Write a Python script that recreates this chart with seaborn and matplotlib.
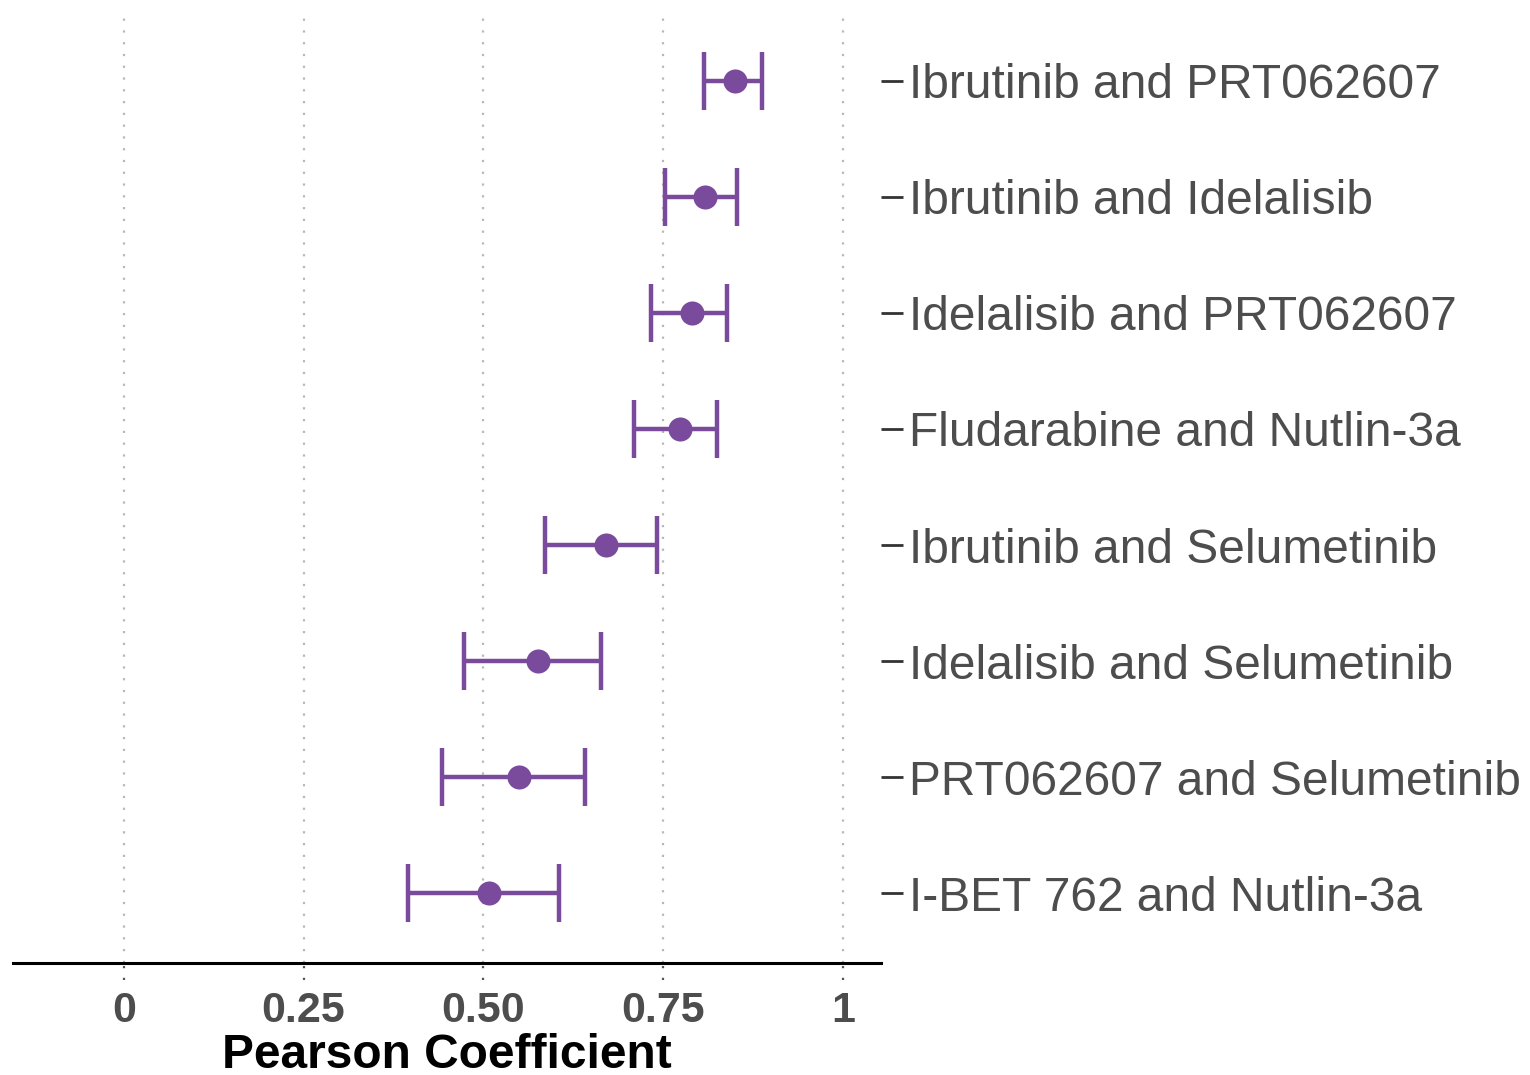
import numpy as np
import pandas as pd
import seaborn as sns
import matplotlib.pyplot as plt
import matplotlib.transforms as mtransforms

pairs = [
    "Ibrutinib and PRT062607",
    "Ibrutinib and Idelalisib",
    "Idelalisib and PRT062607",
    "Fludarabine and Nutlin-3a",
    "Ibrutinib and Selumetinib",
    "Idelalisib and Selumetinib",
    "PRT062607 and Selumetinib",
    "I-BET 762 and Nutlin-3a",
]
pearson = [0.850, 0.808, 0.790, 0.773, 0.670, 0.576, 0.549, 0.508]
ci_low = [0.807, 0.752, 0.733, 0.709, 0.586, 0.473, 0.442, 0.395]
ci_high = [0.887, 0.853, 0.839, 0.825, 0.741, 0.663, 0.641, 0.605]
x_ticks = [0, 0.25, 0.50, 0.75, 1]
x_ticklabels = ["0", "0.25", "0.50", "0.75", "1"]

df = pd.DataFrame({"pair": pairs, "r": pearson, "lo": ci_low, "hi": ci_high})

sns.set_style("white")
plt.rcParams["font.family"] = ["Liberation Sans", "DejaVu Sans"]

purple = "#7a4a9c"
grey_txt = "#4d4d4d"

fig = plt.figure(figsize=(15.3, 10.75), dpi=100)
ax = fig.add_axes([0.0085, 0.1042, 0.5673, 0.8856])

# confidence intervals
ax.errorbar(
    x=df["r"], y=df["pair"],
    xerr=[df["r"] - df["lo"], df["hi"] - df["r"]],
    fmt="none", ecolor=purple, elinewidth=3.2, capsize=21, capthick=3.2, zorder=3,
)
# point estimates
sns.scatterplot(data=df, x="r", y="pair", color=purple, s=300, linewidth=0,
                ax=ax, zorder=4, legend=False)

ax.set_xlim(-0.154, 1.053)
ax.set_ylim(len(pairs) - 0.4, -0.6)

# dotted vertical grid
for xv in x_ticks:
    ax.axvline(xv, color="#b8b8b8", lw=1.6, ls=(0, (1, 4.3)), zorder=1)

for side in ["top", "left", "right"]:
    ax.spines[side].set_visible(False)
ax.spines["bottom"].set_color("black")
ax.spines["bottom"].set_linewidth(2.2)

# x ticks as dotted stubs below the axis line
ax.set_xticks(x_ticks)
ax.set_xticklabels(x_ticklabels, fontsize=31, fontweight="bold", color=grey_txt)
ax.tick_params(axis="x", length=0, pad=20)
trans = mtransforms.blended_transform_factory(ax.transData, ax.transAxes)
for xv in x_ticks:
    ax.plot([xv, xv], [-0.003, -0.027], transform=trans, color="#555555",
            lw=1.6, ls=(0, (1, 4.3)), clip_on=False)

# category labels on the right
ax.yaxis.tick_right()
ax.tick_params(axis="y", length=16, width=2, color="#333333", pad=4,
               labelsize=34.5, labelcolor=grey_txt, right=True, left=False)
ax.set_ylabel("")

ax.set_xlabel("Pearson Coefficient", fontsize=34.5, fontweight="bold",
              color="black", labelpad=1.5)

fig.savefig("out.png", dpi=100)
